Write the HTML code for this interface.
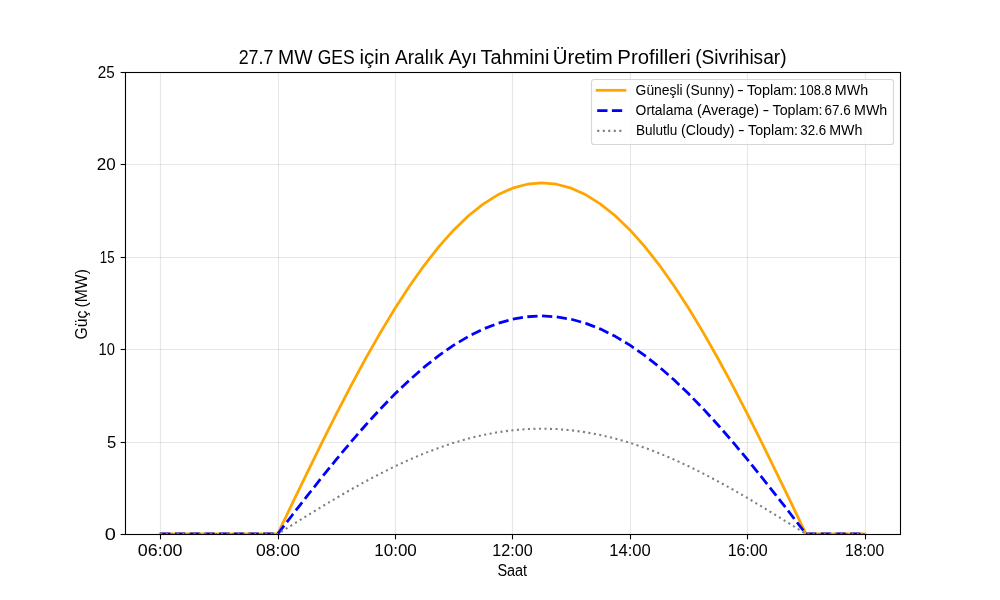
<!DOCTYPE html>
<html lang="tr"><head><meta charset="utf-8"><title>27.7 MW GES için Aralık Ayı Tahmini Üretim Profilleri (Sivrihisar)</title>
<style>html,body{margin:0;padding:0;background:#fff;overflow:hidden}svg{display:block}text{font-family:"Liberation Sans",Arial,Helvetica,sans-serif;fill:#000}</style></head><body>
<svg width="1000" height="600" viewBox="0 0 1000 600">
<rect width="1000" height="600" fill="#fff"/>
<defs><clipPath id="ax"><rect x="125" y="72" width="775" height="462"/></clipPath></defs>
<g stroke="#b0b0b0" stroke-opacity="0.3" stroke-width="1.1" fill="none"><line x1="160.5" y1="72" x2="160.5" y2="534"/><line x1="278.5" y1="72" x2="278.5" y2="534"/><line x1="395.5" y1="72" x2="395.5" y2="534"/><line x1="512.5" y1="72" x2="512.5" y2="534"/><line x1="630.5" y1="72" x2="630.5" y2="534"/><line x1="747.5" y1="72" x2="747.5" y2="534"/><line x1="865.5" y1="72" x2="865.5" y2="534"/><line x1="125" y1="534.5" x2="900" y2="534.5"/><line x1="125" y1="442.5" x2="900" y2="442.5"/><line x1="125" y1="349.5" x2="900" y2="349.5"/><line x1="125" y1="257.5" x2="900" y2="257.5"/><line x1="125" y1="164.5" x2="900" y2="164.5"/><line x1="125" y1="72.5" x2="900" y2="72.5"/></g>
<g stroke="#000" stroke-width="1.1" fill="none"><line x1="160.5" y1="534.5" x2="160.5" y2="539.36"/><line x1="278.5" y1="534.5" x2="278.5" y2="539.36"/><line x1="395.5" y1="534.5" x2="395.5" y2="539.36"/><line x1="512.5" y1="534.5" x2="512.5" y2="539.36"/><line x1="630.5" y1="534.5" x2="630.5" y2="539.36"/><line x1="747.5" y1="534.5" x2="747.5" y2="539.36"/><line x1="865.5" y1="534.5" x2="865.5" y2="539.36"/><line x1="120.64" y1="534.5" x2="125.5" y2="534.5"/><line x1="120.64" y1="442.5" x2="125.5" y2="442.5"/><line x1="120.64" y1="349.5" x2="125.5" y2="349.5"/><line x1="120.64" y1="257.5" x2="125.5" y2="257.5"/><line x1="120.64" y1="164.5" x2="125.5" y2="164.5"/><line x1="120.64" y1="72.5" x2="125.5" y2="72.5"/></g>
<g clip-path="url(#ax)" fill="none" stroke-linejoin="round">
<path d="M160.23 534.00 L174.91 534.00 L189.58 534.00 L204.26 534.00 L218.94 534.00 L233.62 534.00 L248.30 534.00 L262.97 534.00 L277.65 534.00 L292.33 503.40 L307.01 473.03 L321.69 443.12 L336.36 413.91 L351.04 385.61 L365.72 358.44 L380.40 332.61 L395.08 308.30 L409.75 285.72 L424.43 265.03 L439.11 246.38 L453.79 229.92 L468.47 215.78 L483.14 204.06 L497.82 194.84 L512.50 188.21 L527.18 184.22 L541.86 182.88 L556.53 184.22 L571.21 188.21 L585.89 194.84 L600.57 204.06 L615.25 215.78 L629.92 229.92 L644.60 246.38 L659.28 265.03 L673.96 285.72 L688.64 308.30 L703.31 332.61 L717.99 358.44 L732.67 385.61 L747.35 413.91 L762.03 443.12 L776.70 473.03 L791.38 503.40 L806.06 534.00 L820.74 534.00 L835.42 534.00 L850.09 534.00 L864.77 534.00" stroke="#ffa500" stroke-width="2.78" stroke-linecap="square"/>
<path d="M160.23 534.00 L174.91 534.00 L189.58 534.00 L204.26 534.00 L218.94 534.00 L233.62 534.00 L248.30 534.00 L262.97 534.00 L277.65 534.00 L292.33 514.99 L307.01 496.13 L321.69 477.56 L336.36 459.42 L351.04 441.84 L365.72 424.97 L380.40 408.92 L395.08 393.83 L409.75 379.81 L424.43 366.95 L439.11 355.37 L453.79 345.15 L468.47 336.37 L483.14 329.09 L497.82 323.37 L512.50 319.25 L527.18 316.77 L541.86 315.94 L556.53 316.77 L571.21 319.25 L585.89 323.37 L600.57 329.09 L615.25 336.37 L629.92 345.15 L644.60 355.37 L659.28 366.95 L673.96 379.81 L688.64 393.83 L703.31 408.92 L717.99 424.97 L732.67 441.84 L747.35 459.42 L762.03 477.56 L776.70 496.13 L791.38 514.99 L806.06 534.00 L820.74 534.00 L835.42 534.00 L850.09 534.00 L864.77 534.00" stroke="#0000ff" stroke-width="2.78" stroke-dasharray="10.28 4.44"/>
<path d="M160.23 534.00 L174.91 534.00 L189.58 534.00 L204.26 534.00 L218.94 534.00 L233.62 534.00 L248.30 534.00 L262.97 534.00 L277.65 534.00 L292.33 524.82 L307.01 515.71 L321.69 506.74 L336.36 497.97 L351.04 489.48 L365.72 481.33 L380.40 473.58 L395.08 466.29 L409.75 459.52 L424.43 453.31 L439.11 447.71 L453.79 442.78 L468.47 438.53 L483.14 435.02 L497.82 432.25 L512.50 430.26 L527.18 429.06 L541.86 428.66 L556.53 429.06 L571.21 430.26 L585.89 432.25 L600.57 435.02 L615.25 438.53 L629.92 442.78 L644.60 447.71 L659.28 453.31 L673.96 459.52 L688.64 466.29 L703.31 473.58 L717.99 481.33 L732.67 489.48 L747.35 497.97 L762.03 506.74 L776.70 515.71 L791.38 524.82 L806.06 534.00 L820.74 534.00 L835.42 534.00 L850.09 534.00 L864.77 534.00" stroke="#808080" stroke-width="2.08" stroke-dasharray="2.08 3.44"/>
</g>
<rect x="125.5" y="72.5" width="775" height="462" fill="none" stroke="#000" stroke-width="1.1"/>
<g aria-label="x ticks"><text transform="translate(137.78 555.90) scale(1.0525 1)" font-size="17">06:00</text><text transform="translate(256.05 555.90) scale(1.0331 1)" font-size="17">08:00</text><text transform="translate(374.24 555.90) scale(1.0010 1)" font-size="17">10:00</text><text transform="translate(492.31 555.90) scale(0.9516 1)" font-size="17">12:00</text><text transform="translate(609.17 555.90) scale(0.9787 1)" font-size="17">14:00</text><text transform="translate(727.72 555.90) scale(0.9417 1)" font-size="17">16:00</text><text transform="translate(845.04 555.90) scale(0.9244 1)" font-size="17">18:00</text></g>
<g aria-label="y ticks"><text transform="translate(104.80 539.90) scale(1.1765 1)" font-size="17">0</text><text transform="translate(106.94 447.90) scale(0.9762 1)" font-size="17">5</text><text transform="translate(98.62 354.90) scale(0.8675 1)" font-size="17">10</text><text transform="translate(99.73 262.90) scale(0.7843 1)" font-size="17">15</text><text transform="translate(96.75 169.90) scale(1.0035 1)" font-size="17">20</text><text transform="translate(97.84 77.90) scale(0.8997 1)" font-size="17">25</text></g>
<g aria-label="Saat"><text transform="translate(497.38 575.70) scale(0.8920 1)" font-size="16.2">Saat</text></g>
<g aria-label="Güç (MW)"><text transform="translate(87.20 339.49) rotate(-90) scale(0.9715 1)" font-size="16.2">Güç</text><text transform="translate(87.20 307.44) rotate(-90) scale(0.9685 1)" font-size="16.2">(MW)</text></g>
<g aria-label="title"><text transform="translate(238.71 63.80) scale(0.8919 1)" font-size="20">27.7</text><text transform="translate(278.05 63.80) scale(0.9704 1)" font-size="20">MW</text><text transform="translate(317.72 63.80) scale(0.8762 1)" font-size="20">GES</text><text transform="translate(359.57 63.80) scale(1.0219 1)" font-size="20">için</text><text transform="translate(395.00 63.80) scale(0.9529 1)" font-size="20">Aralık</text><text transform="translate(448.60 63.80) scale(0.9925 1)" font-size="20">Ayı</text><text transform="translate(480.60 63.80) scale(0.9970 1)" font-size="20">Tahmini</text><text transform="translate(552.77 63.80) scale(1.0214 1)" font-size="20">Üretim</text><text transform="translate(617.37 63.80) scale(1.0173 1)" font-size="20">Profilleri</text><text transform="translate(695.25 63.80) scale(0.9560 1)" font-size="20">(Sivrihisar)</text></g>
<rect x="591.5" y="79.5" width="302" height="65" rx="2.8" ry="2.8" fill="#fff" fill-opacity="0.8" stroke="#cccccc" stroke-opacity="0.8" stroke-width="1.1"/>
<line x1="597.2" y1="90.3" x2="625" y2="90.3" stroke="#ffa500" stroke-width="2.78" stroke-linecap="square"/>
<line x1="597.2" y1="110.6" x2="625" y2="110.6" stroke="#0000ff" stroke-width="2.78" stroke-dasharray="10.28 4.44"/>
<line x1="597.2" y1="130.9" x2="624.7" y2="130.9" stroke="#808080" stroke-width="2.08" stroke-dasharray="2.08 3.44"/>
<g aria-label="legend"><text transform="translate(635.61 94.60) scale(0.9999 1)" font-size="13.9">Güneşli</text><text transform="translate(685.87 94.60) scale(0.9961 1)" font-size="13.9">(Sunny)</text><text transform="translate(736.88 94.60) scale(1.4676 1)" font-size="13.9">-</text><text transform="translate(746.91 94.60) scale(1.0356 1)" font-size="13.9">Toplam:</text><text transform="translate(799.26 94.60) scale(0.9340 1)" font-size="13.9">108.8</text><text transform="translate(834.86 94.60) scale(1.0249 1)" font-size="13.9">MWh</text></g>
<g aria-label="legend"><text transform="translate(635.61 114.90) scale(0.9994 1)" font-size="13.9">Ortalama</text><text transform="translate(696.95 114.90) scale(1.0233 1)" font-size="13.9">(Average)</text><text transform="translate(762.38 114.90) scale(1.4676 1)" font-size="13.9">-</text><text transform="translate(772.51 114.90) scale(1.0293 1)" font-size="13.9">Toplam:</text><text transform="translate(824.43 114.90) scale(0.9683 1)" font-size="13.9">67.6</text><text transform="translate(854.06 114.90) scale(1.0249 1)" font-size="13.9">MWh</text></g>
<g aria-label="legend"><text transform="translate(635.91 135.40) scale(0.9765 1)" font-size="13.9">Bulutlu</text><text transform="translate(680.90 135.40) scale(1.0231 1)" font-size="13.9">(Cloudy)</text><text transform="translate(737.96 135.40) scale(1.4245 1)" font-size="13.9">-</text><text transform="translate(748.01 135.40) scale(1.0293 1)" font-size="13.9">Toplam:</text><text transform="translate(800.27 135.40) scale(0.9592 1)" font-size="13.9">32.6</text><text transform="translate(829.26 135.40) scale(1.0249 1)" font-size="13.9">MWh</text></g>
</svg></body></html>
